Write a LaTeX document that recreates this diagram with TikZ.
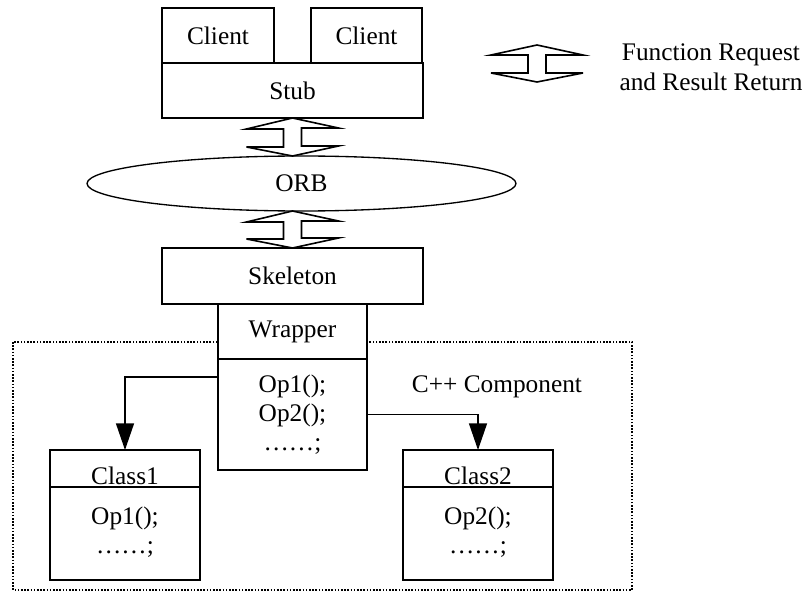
\documentclass[tikz,border=0pt]{standalone}
\usepackage{fontspec}
\setmainfont{Liberation Serif}
\usetikzlibrary{positioning,shapes.geometric,arrows.meta}

\tikzset{
    box/.style = { draw, line width = 1.3pt, fill = white, inner sep = 0pt, outer sep = 0pt },
    conn/.style = { line width = 1pt, -{Triangle[ length = 20pt, width = 13.5pt ]} },
    fat/.style = { line width = 1.2pt, line join = miter },
}

\begin{document}
\begin{tikzpicture}[ x = 0.75pt, y = -0.75pt, font = \fontsize{19pt}{22pt}\selectfont ]
        \useasboundingbox ( 0, 0 ) rectangle ( 807, 599 );

        % компонент C++
        \draw [ line width = 1.2pt, dash pattern = on 1.2pt off 1.2pt ] ( 13, 342 ) rectangle ( 632, 590 );
        \node (cpp) at ( 497, 387 ) {C++ Component};

        % клиенты и stub
        \node [ box, minimum width = 84pt, minimum height = 41.25pt ] (client1) at ( 218, 35.5 ) {Client};
        \node [ box, minimum width = 83.25pt, minimum height = 41.25pt ] (client2) at ( 366.5, 35.5 ) {Client};
        \node [ box, minimum width = 195.75pt, minimum height = 41.25pt ] (stub) at ( 292.5, 90.5 ) {Stub};

        % ORB
        \node [ draw, ellipse, line width = 1pt, minimum width = 321.75pt, minimum height = 41.25pt, inner sep = 0pt, outer sep = 0pt ] (orb) at ( 301.5, 183.5 ) {ORB};

        % skeleton и wrapper
        \node [ box, minimum width = 195.75pt, minimum height = 42pt ] (skel) at ( 292.5, 276 ) {Skeleton};
        \node [ box, minimum width = 111.75pt, minimum height = 41.25pt, below = 0pt of skel ] (wraphead) {Wrapper};
        \node [ box, minimum width = 111.75pt, minimum height = 83.25pt, below = 0pt of wraphead, align = center ] (wrapbody) {Op1();\\Op2();\\……;};

        % двойные стрелки
        \draw [fat] (stub.south) -- ++( 46, 10 ) -- ++( -37, 0 ) -- ++( 0, 18 ) -- ++( 37, 0 ) -- (stub.south |- orb.north)
            -- ++( -46, -9 ) -- ++( 37, 0 ) -- ++( 0, -18 ) -- ++( -37, 0 ) -- cycle;
        \draw [fat] (skel.north |- orb.south) -- ++( 46, 10 ) -- ++( -37, 0 ) -- ++( 0, 17 ) -- ++( 37, 0 ) -- (skel.north)
            -- ++( -46, -9 ) -- ++( 37, 0 ) -- ++( 0, -17 ) -- ++( -37, 0 ) -- cycle;

        % легенда
        \draw [fat] ( 537, 45 ) -- ++( 46, 10 ) -- ++( -37, 0 ) -- ++( 0, 18 ) -- ++( 37, 0 ) -- ( 537, 82 )
            -- ++( -46, -9 ) -- ++( 37, 0 ) -- ++( 0, -18 ) -- ++( -37, 0 ) -- cycle;
        \node [ align = center ] (legend) at ( 711, 67.5 ) {Function Request\\[0.5pt]and Result Return};

        % класс 1
        \node [ box, minimum width = 112.5pt, minimum height = 27.75pt ] (cls1head) at ( 125, 468.5 ) {};
        \node [ box, minimum width = 112.5pt, minimum height = 69.75pt, below = 0pt of cls1head, align = center ] (cls1body) {Op1();\\……;\\[-17pt]};
        \node [ anchor = base, inner sep = 0pt ] (cls1name) at ( 125, 484 ) {Class1};

        % класс 2
        \node [ box, minimum width = 112.5pt, minimum height = 27.75pt ] (cls2head) at ( 478, 468.5 ) {};
        \node [ box, minimum width = 112.5pt, minimum height = 69.75pt, below = 0pt of cls2head, align = center ] (cls2body) {Op2();\\……;\\[-17pt]};
        \node [ anchor = base, inner sep = 0pt ] (cls2name) at ( 478, 484 ) {Class2};

        % вызовы
        \draw [conn] ([yshift = 28.1pt]wrapbody.west) -| (cls1head.north);
        \draw [conn] (wrapbody.east) -| (cls2head.north);
    \end{tikzpicture}
\end{document}
